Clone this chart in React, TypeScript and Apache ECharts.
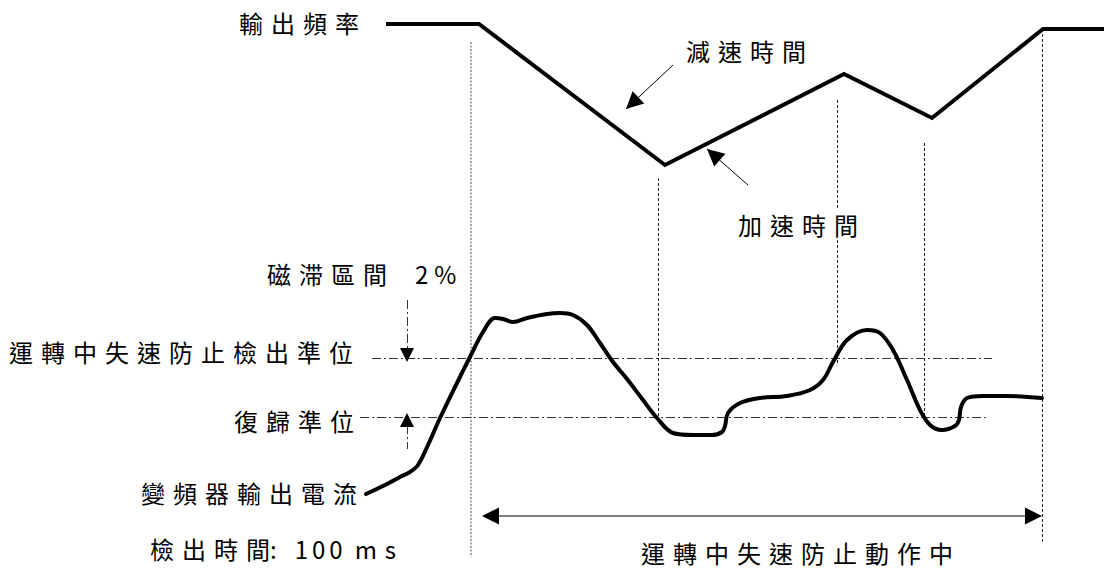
import React, { useEffect, useRef } from "react";
import * as echarts from "echarts";

const W = 1104;
const H = 568;

// Output frequency (time, level) in diagram units
const freqTime = [386, 479, 665, 844, 932, 1043, 1104];
const freqLevel = [24, 24, 165, 74, 118, 29, 29];

// Inverter output current (time, level)
const currentTime = [366, 385, 400, 410, 418, 428, 440, 457, 470, 483, 495, 503, 513, 527, 547, 560, 573, 587, 600, 613, 627, 643, 657, 673, 693, 712, 722, 725, 728, 740, 760, 787, 810, 823, 833, 847, 867, 880, 893, 907, 920, 930, 942, 955, 959, 961, 967, 983, 1007, 1042];
const currentLevel = [494, 485, 477, 472, 465, 445, 418, 383, 357, 332, 318, 319, 322, 318, 314, 313, 315, 325, 343, 362, 379, 400, 418, 433, 435, 435, 432, 426, 413, 403, 398, 396, 390, 380, 362, 340, 330, 333, 350, 380, 410, 425, 430, 426, 420, 407, 398, 396, 396, 398];

// Threshold levels and their spans
const stallDetectLevel = 358;
const stallDetectSpan = [372, 992];
const recoverLevel = 417;
const recoverSpan = [360, 988];

// Guide lines (time, top, bottom)
const guideTimes = [658, 837, 924];
const guideTops = [178, 100, 143];
const guideBottoms = [421, 363, 422];
const detectTime = 471;
const detectSpan = [42, 557];
const endTime = 1042;
const endSpan = [29, 543];

// Action period arrow
const actionLevel = 516;
const actionSpan = [482, 1042];

// Hysteresis marker
const hystTime = 407;
const hystTopStart = 300;
const hystBottomEnd = 449;
const hystDownTip = 362;
const hystUpTip = 413;

// Annotation arrows [tail, tip]
const decelArrow = [[673, 65], [626, 109]];
const accelArrow = [[748, 185], [707, 149]];

const SP = "\u2004";
const spaced = (s: string) => Array.from(s).join(SP);

const labels = [
  { text: spaced("輸出頻率"), x: 239, y: 22 },
  { text: spaced("減速時間"), x: 686, y: 50 },
  { text: spaced("加速時間"), x: 738, y: 224, bg: true },
  { text: spaced("磁滞區間") + "\u3000\u2006" + "2\u2005%", x: 267, y: 273 },
  { text: spaced("運轉中失速防止檢出準位"), x: 9, y: 351 },
  { text: spaced("復歸準位"), x: 234, y: 420 },
  { text: spaced("變頻器輸出電流"), x: 141, y: 492 },
  { text: spaced("檢出時間") + ":\u2002\u2005" + "1\u20060\u20060" + "\u2002" + "m\u2004s", x: 150, y: 548 },
  { text: spaced("運轉中失速防止動作中"), x: 641, y: 552 },
];

// returns a tiny segment ending at the centre of an arrow head whose tip is at `tip`
function headSeg(tail: number[], tip: number[], len: number) {
  const dx = tip[0] - tail[0];
  const dy = tip[1] - tail[1];
  const d = Math.sqrt(dx * dx + dy * dy);
  const ux = dx / d;
  const uy = dy / d;
  const c = [tip[0] - (ux * len) / 2, tip[1] - (uy * len) / 2];
  return { coords: [[c[0] - ux, c[1] - uy], c] };
}

export default function App() {
  const ref = useRef<HTMLDivElement>(null);
  useEffect(() => {
    if (!ref.current) return;
    const chart = echarts.init(ref.current, null, { renderer: "svg" });
    const font = '24px "Noto Sans CJK TC", "Noto Sans CJK SC", sans-serif';

    const freqData = freqTime.map((t, i) => [t, freqLevel[i]]);
    const currentData = currentTime.map((t, i) => [t, currentLevel[i]]);

    const guideData = guideTimes.map((t, i) => ({ coords: [[t, guideTops[i]], [t, guideBottoms[i]]] }));
    guideData.push({ coords: [[endTime, endSpan[0]], [endTime, endSpan[1]]] });

    const smallHead = [10, 14];
    const bigHead = [11, 17];
    const annHead = [10, 17];

    const plainLines = (data: any[], color: string, width: number, type: any) => ({
      type: "lines",
      coordinateSystem: "cartesian2d",
      silent: true,
      lineStyle: { color, width, type, opacity: 1, curveness: 0 },
      data,
    });

    const heads = (data: any[], size: number[]) => ({
      type: "lines",
      coordinateSystem: "cartesian2d",
      silent: true,
      symbol: ["none", "triangle"],
      symbolSize: size,
      lineStyle: { color: "#000", width: 1, opacity: 1, curveness: 0 },
      z: 4,
      data,
    });

    chart.setOption({
      animation: false,
      backgroundColor: "#fff",
      grid: { left: 0, top: 0, width: W, height: H, containLabel: false },
      xAxis: { type: "value", min: 0, max: W, show: false },
      yAxis: { type: "value", min: 0, max: H, inverse: true, show: false },
      series: [
        plainLines([{ coords: [[detectTime, detectSpan[0]], [detectTime, detectSpan[1]]] }], "#888", 1.5, [2, 1.5]),
        plainLines(guideData, "#222", 1, [3, 2]),
        plainLines(
          [
            { coords: [[stallDetectSpan[0], stallDetectLevel], [stallDetectSpan[1], stallDetectLevel]] },
            { coords: [[recoverSpan[0], recoverLevel], [recoverSpan[1], recoverLevel]] },
            { coords: [[hystTime, hystTopStart], [hystTime, stallDetectLevel - 8]] },
            { coords: [[hystTime, recoverLevel + 8], [hystTime, hystBottomEnd]] },
          ],
          "#333",
          1,
          [9, 3, 2, 3]
        ),
        plainLines([{ coords: [[actionSpan[0] + 8, actionLevel], [actionSpan[1] - 8, actionLevel]] }], "#555", 1.5, "solid"),
        plainLines(
          [
            { coords: [decelArrow[0], decelArrow[1]] },
            { coords: [accelArrow[0], accelArrow[1]] },
          ],
          "#000",
          1,
          "solid"
        ),
        heads(
          [
            headSeg([hystTime, hystTopStart], [hystTime, hystDownTip], smallHead[1]),
            headSeg([hystTime, hystBottomEnd], [hystTime, hystUpTip], smallHead[1]),
          ],
          smallHead
        ),
        heads(
          [
            headSeg([actionSpan[1], actionLevel], [actionSpan[0], actionLevel], bigHead[1]),
            headSeg([actionSpan[0], actionLevel], [actionSpan[1], actionLevel], bigHead[1]),
          ],
          bigHead
        ),
        heads([headSeg(decelArrow[0], decelArrow[1], annHead[1]), headSeg(accelArrow[0], accelArrow[1], annHead[1])], annHead),
        {
          type: "line",
          data: currentData,
          smooth: 0.35,
          symbol: "none",
          silent: true,
          lineStyle: { color: "#000", width: 4, join: "round", cap: "round" },
          z: 5,
        },
        {
          type: "line",
          data: freqData,
          symbol: "none",
          silent: true,
          lineStyle: { color: "#000", width: 4, join: "miter", cap: "butt" },
          z: 5,
        },
      ],
      graphic: labels.map((l) => ({
        type: "text",
        x: l.x,
        y: l.y,
        z: 100,
        silent: true,
        style: {
          text: l.text,
          font,
          fill: "#000",
          align: "left",
          verticalAlign: "middle",
          backgroundColor: (l as any).bg ? "#fff" : undefined,
          padding: (l as any).bg ? [4, 0] : undefined,
        },
      })),
    });
    return () => chart.dispose();
  }, []);
  return <div ref={ref} style={{ position: "fixed", left: 0, top: 0, width: W, height: H }} />;
}
